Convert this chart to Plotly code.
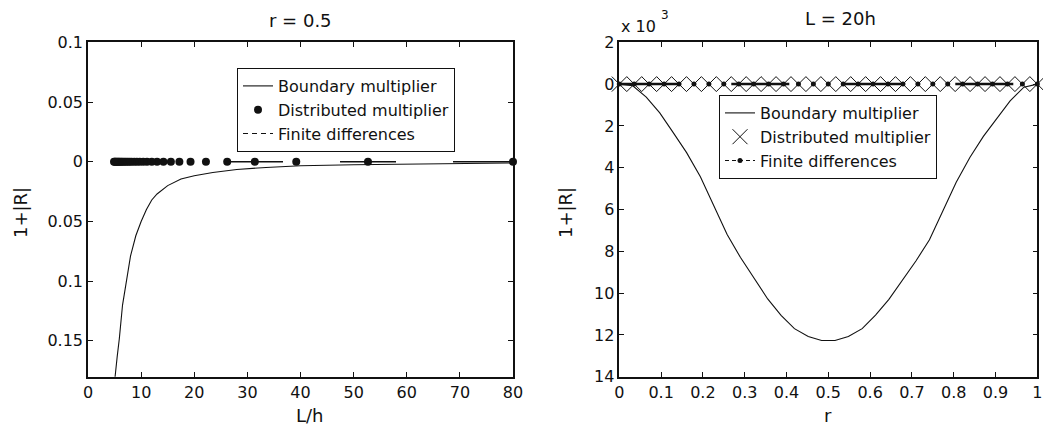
import plotly.graph_objects as go

# The page body has an 8px margin: lay the figure out in window pixels and compensate.
OFF = 8
W, H = 1051 - OFF, 426 - OFF
def px(x): return (x - OFF) / W
def py(y): return 1 - (y - OFF) / H

FONT = "DejaVu Sans, Liberation Sans, Arial, sans-serif"
INK = "#111111"

# ---------------- Left panel (r = 0.5) ----------------
L_boundary = [4.9, 5.1, 5.5, 5.9, 6.5, 7.2, 8.0, 9.0, 10.0, 11.0, 12.0, 13.0, 15.0,
              17.5, 20.0, 23.5, 28.0, 33.5, 40.0, 50.0, 60.0, 70.0, 80.0]
R_boundary = [-0.21, -0.18, -0.163, -0.148, -0.12, -0.099, -0.079, -0.062, -0.050,
              -0.040, -0.032, -0.027, -0.020, -0.0145, -0.0118, -0.0090, -0.0065,
              -0.0048, -0.0034, -0.0025, -0.0019, -0.0014, -0.0010]

L_distributed = [80, 52.7, 39.2, 31.4, 26.2, 22.2, 19.3, 17.2, 15.6, 14.2, 13.0, 12.0,
                 11.1, 10.4, 9.75, 9.2, 8.7, 8.2, 7.8, 7.45, 7.1, 6.8, 6.5, 6.25, 6.0,
                 5.8, 5.6, 5.4, 5.2, 5.05, 4.9]
R_distributed = [0.0, 0.0, 0.0, 0.0, 0.0, 0.0, 0.0, 0.0, 0.0, 0.0, 0.0, 0.0, 0.0, 0.0,
                 0.0, 0.0, 0.0, 0.0, 0.0, 0.0, 0.0, 0.0, 0.0, 0.0, 0.0, 0.0, 0.0, 0.0,
                 0.0, 0.0, 0.0]
L_fd = [4.9, 80]
R_fd = [0.0, 0.0]

left_xticks = [0, 10, 20, 30, 40, 50, 60, 70, 80]
left_yticks = [0.1, 0.05, 0, -0.05, -0.1, -0.15]
left_yticktext = ["0.1", "0.05", "0", "0.05", "0.1", "0.15"]

# ---------------- Right panel (L = 20h), values in units of 1e-3 ----------------
r_boundary = [0.0, 0.0323, 0.0645, 0.0968, 0.129, 0.161, 0.194, 0.226, 0.258, 0.290,
              0.323, 0.355, 0.387, 0.419, 0.452, 0.484, 0.516, 0.548, 0.581, 0.613,
              0.645, 0.677, 0.710, 0.742, 0.774, 0.806, 0.839, 0.871, 0.903, 0.935,
              0.968, 1.0]
R_boundary_e3 = [0.0, -0.08, -0.62, -1.38, -2.32, -3.28, -4.43, -5.8, -7.2, -8.3,
                 -9.3, -10.28, -11.07, -11.7, -12.08, -12.27, -12.27, -12.08, -11.7,
                 -11.05, -10.3, -9.4, -8.45, -7.45, -6.1, -4.7, -3.5, -2.5, -1.65,
                 -0.8, -0.15, 0.0]

r_points = [0.0, 0.0357, 0.0714, 0.1071, 0.1429, 0.1786, 0.2143, 0.25, 0.2857, 0.3214,
            0.3571, 0.3929, 0.4286, 0.4643, 0.5, 0.5357, 0.5714, 0.6071, 0.6429,
            0.6786, 0.7143, 0.75, 0.7857, 0.8214, 0.8571, 0.8929, 0.9286, 0.9643, 1.0]
R_distributed_e3 = [0.0, 0.0, 0.0, 0.0, 0.0, 0.0, 0.0, 0.0, 0.0, 0.0, 0.0, 0.0, 0.0,
                    0.0, 0.0, 0.0, 0.0, 0.0, 0.0, 0.0, 0.0, 0.0, 0.0, 0.0, 0.0, 0.0,
                    0.0, 0.0, 0.0]
R_fd_e3 = [0.0, 0.0, 0.0, 0.0, 0.0, 0.0, 0.0, 0.0, 0.0, 0.0, 0.0, 0.0, 0.0, 0.0, 0.0,
           0.0, 0.0, 0.0, 0.0, 0.0, 0.0, 0.0, 0.0, 0.0, 0.0, 0.0, 0.0, 0.0, 0.0]

right_xticks = [0, 0.1, 0.2, 0.3, 0.4, 0.5, 0.6, 0.7, 0.8, 0.9, 1]
right_xticktext = ["0", "0.1", "0.2", "0.3", "0.4", "0.5", "0.6", "0.7", "0.8", "0.9", "1"]
right_yticks = [2, 0, -2, -4, -6, -8, -10, -12, -14]
right_yticktext = ["2", "0", "2", "4", "6", "8", "10", "12", "14"]

fig = go.Figure()

# Left traces
fig.add_trace(go.Scatter(x=L_boundary, y=R_boundary, mode="lines",
                         line=dict(color=INK, width=1.1), name="Boundary multiplier",
                         xaxis="x", yaxis="y", legend="legend"))
fig.add_trace(go.Scatter(x=L_fd, y=R_fd, mode="lines",
                         line=dict(color=INK, width=1.5, dash="56px,57px"),
                         showlegend=False, xaxis="x", yaxis="y"))
fig.add_trace(go.Scatter(x=L_distributed, y=R_distributed, mode="markers",
                         marker=dict(color=INK, size=8, symbol="circle"),
                         cliponaxis=False, name="Distributed multiplier",
                         xaxis="x", yaxis="y", legend="legend"))
fig.add_trace(go.Scatter(x=[None], y=[None], mode="lines",
                         line=dict(color=INK, width=1, dash="5px,4px"),
                         name="Finite differences", xaxis="x", yaxis="y", legend="legend"))

# Right traces
fig.add_trace(go.Scatter(x=r_boundary, y=R_boundary_e3, mode="lines",
                         line=dict(color=INK, width=1.1), name="Boundary multiplier",
                         xaxis="x2", yaxis="y2", legend="legend2"))
fig.add_trace(go.Scatter(x=r_points, y=R_distributed_e3, mode="markers",
                         marker=dict(symbol="x-thin", size=15, color=INK,
                                     line=dict(color=INK, width=1)),
                         cliponaxis=False, name="Distributed multiplier",
                         xaxis="x2", yaxis="y2", legend="legend2"))
fig.add_trace(go.Scatter(x=r_points, y=R_fd_e3, mode="lines+markers",
                         line=dict(color=INK, width=2.5, dash="58px,54px"),
                         marker=dict(symbol="circle", size=5, color=INK),
                         cliponaxis=False, showlegend=False, xaxis="x2", yaxis="y2"))
fig.add_trace(go.Scatter(x=[None], y=[None], mode="lines+markers",
                         line=dict(color=INK, width=1, dash="4px,3px"),
                         marker=dict(symbol="circle", size=5, color=INK),
                         name="Finite differences", xaxis="x2", yaxis="y2", legend="legend2"))

axis_common = dict(showline=True, linecolor=INK, linewidth=1.5, mirror="ticks",
                   ticks="inside", ticklen=5, tickwidth=1, tickcolor=INK,
                   showgrid=False, zeroline=False, automargin=False,
                   tickfont=dict(family=FONT, size=16, color=INK))

legend_common = dict(xanchor="left", yanchor="middle", bgcolor="rgba(0,0,0,0)",
                     bordercolor=INK, borderwidth=1,
                     font=dict(family=FONT, size=16, color=INK), tracegroupgap=0,
                     itemwidth=30)

fig.update_layout(
    width=W, height=H,
    margin=dict(l=0, r=0, t=0, b=0, autoexpand=False),
    paper_bgcolor="white", plot_bgcolor="white",
    font=dict(family=FONT, size=16, color=INK),
    xaxis=dict(domain=[px(88), px(513)], range=[0, 80], tickvals=left_xticks,
               anchor="y", **axis_common),
    yaxis=dict(domain=[py(376.7), py(42.3)], range=[-0.18, 0.1], tickvals=left_yticks,
               ticktext=left_yticktext, anchor="x", **axis_common),
    xaxis2=dict(domain=[px(619.3), px(1037.3)], range=[0, 1], tickvals=right_xticks,
                ticktext=right_xticktext, anchor="y2", **axis_common),
    yaxis2=dict(domain=[py(376.7), py(42.3)], range=[-14, 2], tickvals=right_yticks,
                ticktext=right_yticktext, anchor="x2", **axis_common),
    legend=dict(x=px(237), y=py(110), **legend_common),
    legend2=dict(x=px(719), y=py(137), **legend_common),
    annotations=[
        dict(text="r = 0.5", x=px(300), y=py(21), xref="paper", yref="paper",
             showarrow=False, xanchor="center", yanchor="middle",
             font=dict(family=FONT, size=18, color=INK)),
        dict(text="L = 20h", x=px(840), y=py(19), xref="paper", yref="paper",
             showarrow=False, xanchor="center", yanchor="middle",
             font=dict(family=FONT, size=18, color=INK)),
        dict(text="L/h", x=px(310), y=py(415), xref="paper", yref="paper",
             showarrow=False, xanchor="center", yanchor="middle",
             font=dict(family=FONT, size=18, color=INK)),
        dict(text="r", x=px(828), y=py(415), xref="paper", yref="paper",
             showarrow=False, xanchor="center", yanchor="middle",
             font=dict(family=FONT, size=18, color=INK)),
        dict(text="1+|R|", x=px(21), y=py(213), xref="paper", yref="paper",
             showarrow=False, xanchor="center", yanchor="middle", textangle=-90,
             font=dict(family=FONT, size=18, color=INK)),
        dict(text="1+|R|", x=px(566), y=py(213), xref="paper", yref="paper",
             showarrow=False, xanchor="center", yanchor="middle", textangle=-90,
             font=dict(family=FONT, size=18, color=INK)),
        dict(text="x 10", x=px(619), y=py(27), xref="paper", yref="paper",
             showarrow=False, xanchor="left", yanchor="middle",
             font=dict(family=FONT, size=16, color=INK)),
        dict(text="3", x=px(659), y=py(15), xref="paper", yref="paper",
             showarrow=False, xanchor="left", yanchor="middle",
             font=dict(family=FONT, size=12, color=INK)),
    ],
)

fig.write_html("out.html")
